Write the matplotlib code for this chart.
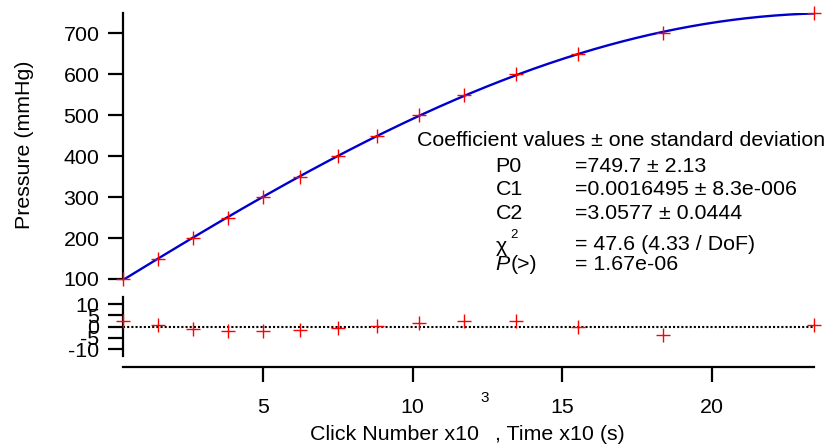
import numpy as np
import matplotlib
matplotlib.use("Agg")
import matplotlib.pyplot as plt

plt.rcParams["font.family"] = ["Liberation Sans", "DejaVu Sans"]
plt.rcParams["axes.unicode_minus"] = False

# Measured calibration points
clicks = [0.30, 1.46, 2.65, 3.81, 5.00, 6.23, 7.49, 8.81, 10.20, 11.73, 13.45, 15.54, 18.37, 23.44]
pressure = [100, 150, 200, 250, 300, 350, 400, 450, 500, 550, 600, 650, 700, 750]
residuals = [2.7, 0.9, -1.0, -1.9, -1.8, -1.6, -0.4, 0.4, 1.7, 2.4, 2.4, -0.1, -3.9, 0.9]

pressure_ticks = [100, 200, 300, 400, 500, 600, 700]
residual_ticks = [-10, -5, 0, 5, 10]
x_ticks = [5, 10, 15, 20]

coef_names = ["P0", "C1", "C2"]
coef_values = ["=749.7 ± 2.13", "=0.0016495 ± 8.3e-006", "=3.0577 ± 0.0444"]
chi2_text = "= 47.6 (4.33 / DoF)"
prob_text = "= 1.67e-06"

FS = 15.4
W, H = 835, 446


def fx(px):
    return px / W


def fy(py):
    return 1 - py / H


# Least-squares sinusoidal fit  P = a*sin(kx) + b*cos(kx)
x = np.asarray(clicks, float)
y = np.asarray(pressure, float)
best = None
for k in np.linspace(0.02, 0.15, 2601):
    A = np.column_stack([np.sin(k * x), np.cos(k * x)])
    c, *_ = np.linalg.lstsq(A, y, rcond=None)
    sse = np.sum((A @ c - y) ** 2)
    if best is None or sse < best[0]:
        best = (sse, k, c)
_, kb, cb = best
xf = np.linspace(x.min(), x.max(), 400)
yf = cb[0] * np.sin(kb * xf) + cb[1] * np.cos(kb * xf)

fig = plt.figure(figsize=(W / 100, H / 100), dpi=100)
left, right = 123, 814.3
ax = fig.add_axes([fx(left), fy(279), (right - left) / W, (279 - 13) / H])
axr = fig.add_axes([fx(left), fy(356), (right - left) / W, (356 - 297.3) / H], sharex=ax)

LW = 1.6
for a in (ax, axr):
    for s in ("top", "right"):
        a.spines[s].set_visible(False)
    for s in ("left", "bottom"):
        a.spines[s].set_linewidth(LW)
    a.tick_params(direction="out", length=11, width=LW, labelsize=FS)
    a.tick_params(axis="y", pad=6)
    a.tick_params(axis="x", pad=11.5)

# Main panel
ax.spines["bottom"].set_visible(False)
ax.tick_params(axis="x", bottom=False, labelbottom=False)
ax.plot(xf, yf, color="#0000CC", lw=1.7, zorder=2)
ax.plot(clicks, pressure, "+", color="red", ms=10, mew=1.0, clip_on=False, zorder=3)
ax.set_xlim(min(clicks), max(clicks))
ax.set_ylim(100, 750)
ax.set_yticks(pressure_ticks)

# Residual panel
axr.spines["bottom"].set_position(("outward", 7.7))
axr.axhline(0, color="black", ls=(0, (1, 1)), lw=1.5, zorder=1)
axr.plot(clicks, residuals, "+", color="red", ms=10, mew=1.0, clip_on=False, zorder=3)
axr.set_ylim(-13.1, 13.1)
axr.set_yticks(residual_ticks)
axr.set_xticks(x_ticks)
axr.set_xticklabels([str(t) for t in x_ticks])

# Axis title for pressure
fig.text(fx(25), fy(145), "Pressure (mmHg)", rotation=90, ha="center", va="center", fontsize=FS)

# Fit report
fig.text(fx(416.7), fy(146), "Coefficient values ± one standard deviation", fontsize=FS, va="baseline")
rows = [171.7, 195.2, 218.7]
for name, val, b in zip(coef_names, coef_values, rows):
    fig.text(fx(495.7), fy(b), name, fontsize=FS, va="baseline")
    fig.text(fx(575), fy(b), val, fontsize=FS, va="baseline")
fig.text(fx(495.7), fy(251.5), "χ", fontsize=FS, va="baseline")
fig.text(fx(510.5), fy(237.5), "2", fontsize=9.5, va="baseline")
fig.text(fx(575), fy(250), chi2_text, fontsize=FS, va="baseline")
tp = fig.text(fx(495.7), fy(270.3), "P", fontsize=FS, va="baseline", style="italic")
fig.canvas.draw()
r = fig.canvas.get_renderer()
bb = tp.get_window_extent(r)
fig.text(bb.x1 / W + 0.5 / W, fy(270.3), "(>)", fontsize=FS, va="baseline")
fig.text(fx(575), fy(270.3), prob_text, fontsize=FS, va="baseline")

# Horizontal axis title with raised exponent
t1 = fig.text(fx(310), fy(439.5), "Click Number x10", fontsize=FS, va="baseline")
bb1 = t1.get_window_extent(r)
t2 = fig.text((bb1.x1 + 1.5) / W, fy(401.5), "3", fontsize=11, va="baseline")
bb2 = t2.get_window_extent(r)
fig.text((bb2.x1 + 0.5) / W, fy(439.5), " , Time x10 (s)", fontsize=FS, va="baseline")

fig.savefig("out.png", dpi=100)
